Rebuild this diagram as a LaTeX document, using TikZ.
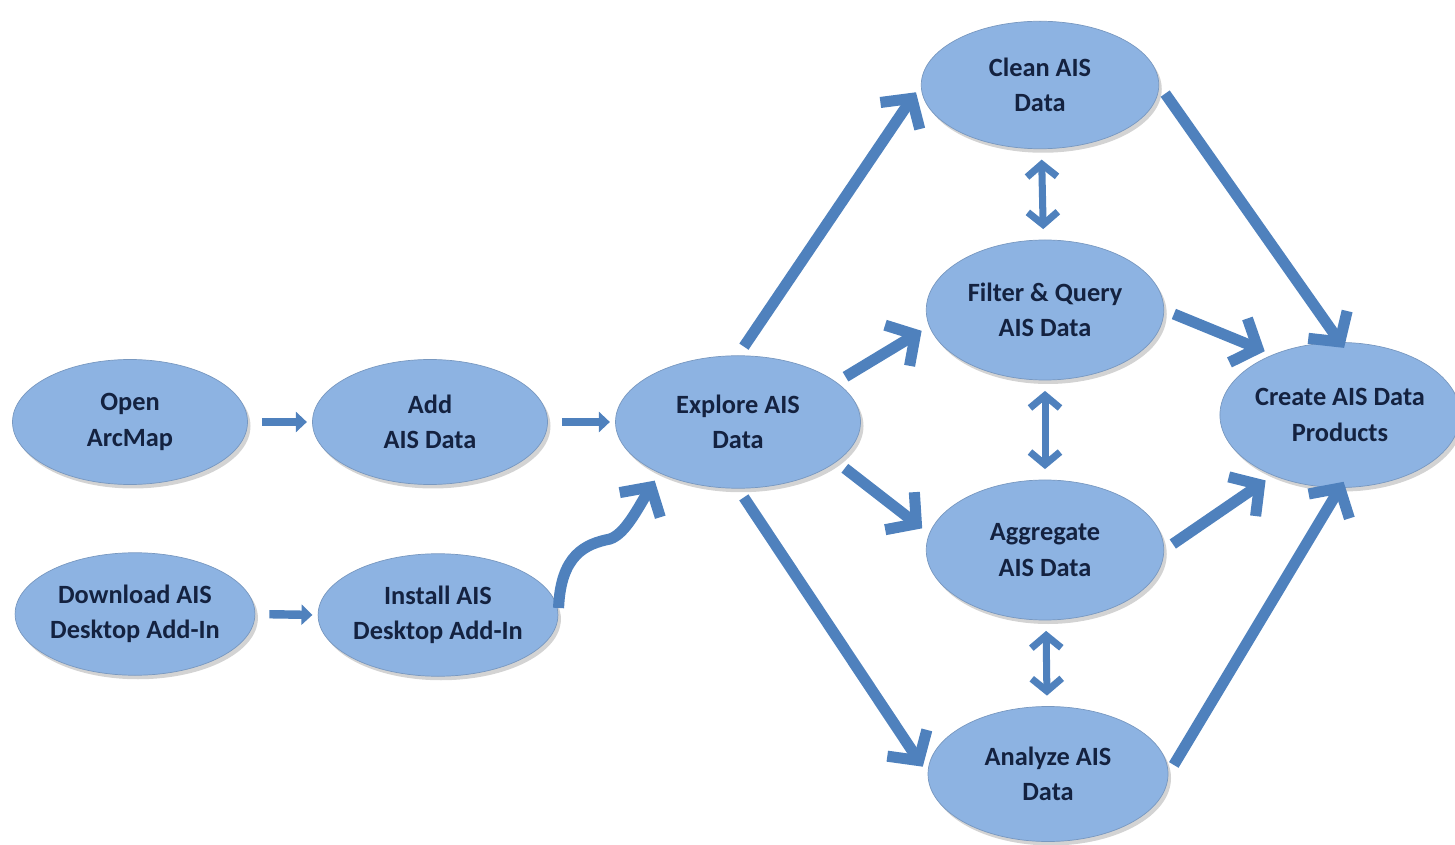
\documentclass[tikz,border=0pt]{standalone}
\usepackage{fontspec}
\setmainfont{Carlito}
\usepackage{tikz}
\usetikzlibrary{shapes.geometric,arrows.meta,shadows}
\usepackage{xcolor}
\definecolor{ellfill}{HTML}{8DB3E2}
\definecolor{arrblue}{HTML}{4F81BD}
\definecolor{txtnavy}{HTML}{142240}

\begin{document}
\begin{tikzpicture}[
        ell/.style={ellipse,fill=ellfill,draw=ellfill!85!black,line width=0.4pt,
                    minimum width=4.7cm,minimum height=2.5cm,inner sep=0pt,align=center,
                    text=txtnavy,font=\fontsize{15}{20}\selectfont\bfseries,
                    drop shadow={shadow xshift=0.06cm,shadow yshift=-0.08cm,opacity=0.35}},
        flow/.style={draw=arrblue,line width=6.3pt,shorten <=6pt,shorten >=5pt,
                     -{Straight Barb[length=0.42cm,width=0.95cm]}},
        dflow/.style={draw=arrblue,line width=4pt,shorten <=6pt,shorten >=6pt,
                      {Straight Barb[length=0.25cm,width=0.6cm]}-{Straight Barb[length=0.25cm,width=0.6cm]}},
        sflow/.style={draw=arrblue,line width=4.8pt,shorten <=8pt,shorten >=3pt,
                      -{Triangle[length=0.22cm,width=0.4cm]}}
    ]
    \useasboundingbox (0,0) rectangle (29.1,16.88);

    \node[ell] (open)      at (2.6,8.44)   {Open\\ArcMap};
    \node[ell] (add)       at (8.6,8.44)   {Add\\AIS Data};
    \node[ell,minimum width=4.9cm,minimum height=2.65cm] (explore) at (14.76,8.44) {Explore AIS\\Data};
    \node[ell,minimum height=2.45cm] (download) at (2.7,4.6)  {Download AIS\\Desktop Add-In};
    \node[ell,minimum height=2.45cm] (install)  at (8.76,4.58) {Install AIS\\Desktop Add-In};
    \node[ell,minimum width=4.75cm,minimum height=2.55cm] (clean)     at (20.8,15.18) {Clean AIS\\Data};
    \node[ell,minimum width=4.75cm,minimum height=2.8cm]  (filter)    at (20.9,10.68) {Filter \& Query\\AIS Data};
    \node[ell,minimum width=4.75cm,minimum height=2.8cm]  (aggregate) at (20.9,5.88)  {Aggregate\\AIS Data};
    \node[ell,minimum width=4.8cm,minimum height=2.7cm]   (analyze)   at (20.96,1.4)  {Analyze AIS\\Data};
    \node[ell,minimum width=4.55cm,minimum height=2.9cm]  (create)    at (26.8,8.58)  {Create AIS Data\\Products};

    \draw[sflow] (open.east) -- (add.west);
    \draw[sflow] (add.east) -- (explore.west);
    \draw[sflow] (download.east) -- (install.west);
    \draw[flow,shorten <=4pt] (install.east) .. controls +(0.05,1.2) and (11.7,6.0) .. (12.2,6.1)
        .. controls (12.5,6.2) and (12.75,6.7) .. (explore.213);

    \draw[flow] (explore.north) -- (clean.west);
    \draw[flow] (explore.22) -- (filter.188);
    \draw[flow] (explore.-22) -- (aggregate.172);
    \draw[flow] (explore.south) -- (analyze.west);

    \draw[flow,shorten >=-4pt] (clean.east) -- (create.north);
    \draw[flow] (filter.east) -- (create.138);
    \draw[flow] (aggregate.east) -- (create.222);
    \draw[flow,shorten >=-4pt] (analyze.east) -- (create.south);

    \draw[dflow] (clean) -- (filter);
    \draw[dflow] (filter) -- (aggregate);
    \draw[dflow] (aggregate) -- (analyze);
\end{tikzpicture}
\end{document}
